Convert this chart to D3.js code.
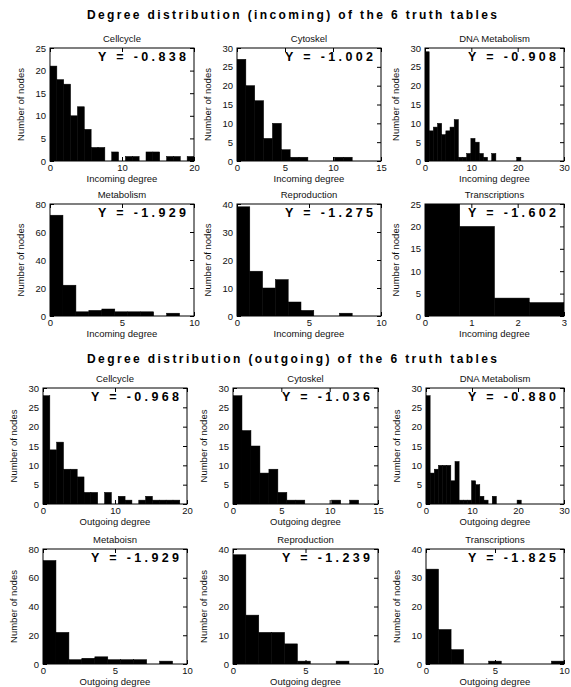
<!DOCTYPE html>
<html>
  <head>
    <meta charset="utf-8" />
    <title>Degree distributions of the 6 truth tables</title>
    <script src="https://d3js.org/d3.v7.min.js"></script>
    <style>
      body {
        margin: 0;
        background: #fff;
        font-family: "Liberation Sans", Arial, sans-serif;
      }
      .axis text {
        font-size: 9.5px;
        fill: #111;
      }
      .axis line {
        stroke: #000;
      }
      .axis path {
        display: none;
      }
      .main-title {
        font-size: 12px;
        font-weight: bold;
      }
      .panel-title,
      .x-label,
      .y-label {
        font-size: 9.5px;
        fill: #111;
      }
      .gamma {
        font-family: "Liberation Sans", Arial, sans-serif;
        font-size: 12.5px;
        font-weight: bold;
      }
    </style>
  </head>
  <body>
    <svg id="chart" width="571" height="687"></svg>

    <script>
      // Panel names and fitted exponents
      const namesIn = ['Cellcycle', 'Cytoskel', 'DNA Metabolism', 'Metabolism', 'Reproduction', 'Transcriptions'];
      const namesOut = ['Cellcycle', 'Cytoskel', 'DNA Metabolism', 'Metaboisn', 'Reproduction', 'Transcriptions'];
      const gammaIn = ['-0.838', '-1.002', '-0.908', '-1.929', '-1.275', '-1.602'];
      const gammaOut = ['-0.968', '-1.036', '-0.880', '-1.929', '-1.239', '-1.825'];

      // Histogram counts (number of nodes per bin), incoming degree
      const cellcycleIn = [21, 18, 17, 10, 12, 7, 3, 3, 0, 2, 0, 1, 1, 0, 2, 2, 0, 1, 1, 0, 1];
      const cytoskelIn = [27, 20, 16, 6, 10, 3, 1, 1, 0, 0, 0, 1, 1];
      const dnaIn = [29, 8, 9, 10, 7, 8, 9, 11, 1, 1, 2, 6, 5, 2, 1, 0, 2, 0, 0, 0, 0, 0, 1];
      const metabolismIn = [72, 22, 3, 4, 5, 3, 3, 3, 0, 2];
      const reproductionIn = [39, 16, 10, 13, 5, 2, 0, 0, 1];
      const transcriptionsIn = [25, 20, 4, 3];

      // Histogram counts, outgoing degree
      const cellcycleOut = [28, 14, 16, 9, 9, 7, 3, 3, 0, 3, 0, 2, 1, 0, 1, 2, 1, 1, 1, 1];
      const cytoskelOut = [28, 19, 15, 8, 9, 3, 1, 1, 0, 0, 0, 1, 0, 1];
      const dnaOut = [28, 8, 9, 10, 10, 10, 6, 11, 1, 1, 1, 6, 5, 2, 1, 0, 2, 0, 0, 0, 0, 0, 1];
      const metabolismOut = [72, 22, 3, 4, 5, 3, 3, 3, 0, 2];
      const reproductionOut = [38, 17, 11, 11, 7, 1, 0, 0, 1];
      const transcriptionsOut = [33, 12, 5, 0, 0, 1, 0, 0, 0, 0, 1];

      // Bin widths (degree units)
      const binWidthIn = [20 / 21, 12 / 13, 0.9, 0.9, 8 / 9, 0.75];
      const binWidthOut = [19 / 20, 13 / 14, 0.9, 0.9, 8 / 9, 10 / 11];

      // Axis ranges and ticks
      const xTicksIn = [[0, 10, 20], [0, 5, 10, 15], [0, 10, 20, 30], [0, 5, 10], [0, 5, 10], [0, 1, 2, 3]];
      const xTicksOut = [[0, 10, 20], [0, 5, 10, 15], [0, 10, 20, 30], [0, 5, 10], [0, 5, 10], [0, 5, 10]];
      const yTicksIn = [[0, 5, 10, 15, 20, 25], [0, 5, 10, 15, 20, 25, 30], [0, 5, 10, 15, 20, 25, 30],
                        [0, 20, 40, 60, 80], [0, 10, 20, 30, 40], [0, 5, 10, 15, 20, 25]];
      const yTicksOut = [[0, 5, 10, 15, 20, 25, 30], [0, 5, 10, 15, 20, 25, 30], [0, 5, 10, 15, 20, 25, 30],
                         [0, 20, 40, 60, 80], [0, 10, 20, 30, 40], [0, 10, 20, 30, 40]];

      const countsIn = [cellcycleIn, cytoskelIn, dnaIn, metabolismIn, reproductionIn, transcriptionsIn];
      const countsOut = [cellcycleOut, cytoskelOut, dnaOut, metabolismOut, reproductionOut, transcriptionsOut];

      const svg = d3.select('#chart');

      // Plot box positions for the two blocks of 2x3 panels
      const layoutIn = { tops: [48, 204], bottoms: [161, 316], lefts: [50, 237, 425], rights: [194, 381, 564] };
      const layoutOut = { tops: [388, 549], bottoms: [504, 664], lefts: [43, 233, 426], rights: [187, 378, 564] };

      function drawPanel(box, name, gamma, counts, bw, xTicks, yTicks, xLabel, id) {
        const xMax = xTicks[xTicks.length - 1];
        const yMax = yTicks[yTicks.length - 1];
        const x = d3.scaleLinear().domain([0, xMax]).range([box.l, box.r]);
        const y = d3.scaleLinear().domain([0, yMax]).range([box.b, box.t]);
        const fmt = d3.format('d');

        const g = svg.append('g');

        g.append('clipPath').attr('id', id)
          .append('rect')
          .attr('x', box.l).attr('y', box.t)
          .attr('width', box.r - box.l).attr('height', box.b - box.t);

        // bars
        g.append('g')
          .attr('clip-path', `url(#${id})`)
          .selectAll('rect')
          .data(counts.map((c, i) => ({ c, i })).filter(d => d.c > 0))
          .join('rect')
            .attr('x', d => x(d.i * bw))
            .attr('y', d => y(d.c))
            .attr('width', d => x((d.i + 1) * bw) - x(d.i * bw))
            .attr('height', d => y(0) - y(d.c))
            .attr('fill', '#000')
            .attr('stroke', '#000')
            .attr('stroke-width', 0.5);

        // axes with inward ticks on all four sides
        g.append('g').attr('class', 'axis')
          .attr('transform', `translate(0,${box.b})`)
          .call(d3.axisBottom(x).tickValues(xTicks).tickFormat(fmt).tickSize(-4).tickPadding(3));
        g.append('g').attr('class', 'axis')
          .attr('transform', `translate(0,${box.t})`)
          .call(d3.axisTop(x).tickValues(xTicks).tickSize(-4).tickFormat(''));
        g.append('g').attr('class', 'axis')
          .attr('transform', `translate(${box.l},0)`)
          .call(d3.axisLeft(y).tickValues(yTicks).tickFormat(fmt).tickSize(-4).tickPadding(4));
        g.append('g').attr('class', 'axis')
          .attr('transform', `translate(${box.r},0)`)
          .call(d3.axisRight(y).tickValues(yTicks).tickSize(-4).tickFormat(''));

        g.append('rect')
          .attr('x', box.l).attr('y', box.t)
          .attr('width', box.r - box.l).attr('height', box.b - box.t)
          .attr('fill', 'none').attr('stroke', '#000');

        const cx = (box.l + box.r) / 2;
        g.append('text').attr('class', 'panel-title')
          .attr('x', cx).attr('y', box.t - 6)
          .attr('text-anchor', 'middle').text(name);
        g.append('text').attr('class', 'x-label')
          .attr('x', cx).attr('y', box.b + 21)
          .attr('text-anchor', 'middle').text(xLabel);
        g.append('text').attr('class', 'y-label')
          .attr('transform', `translate(${box.l - 26},${(box.t + box.b) / 2}) rotate(-90)`)
          .attr('text-anchor', 'middle').text('Number of nodes');
        g.append('text').attr('class', 'gamma')
          .attr('x', box.r - 8).attr('y', box.t + 13)
          .attr('text-anchor', 'end')
          .attr('textLength', 88).attr('lengthAdjust', 'spacing')
          .text('Y = ' + gamma);
      }

      function drawBlock(layout, names, gammas, counts, widths, xTicks, yTicks, xLabel, prefix) {
        names.forEach((name, k) => {
          const row = Math.floor(k / 3);
          const col = k % 3;
          const box = {
            l: layout.lefts[col], r: layout.rights[col],
            t: layout.tops[row], b: layout.bottoms[row]
          };
          drawPanel(box, name, gammas[k], counts[k], widths[k], xTicks[k], yTicks[k], xLabel, prefix + k);
        });
      }

      svg.append('text').attr('class', 'main-title')
        .attr('x', 292).attr('y', 19).attr('text-anchor', 'middle')
        .attr('textLength', 410).attr('lengthAdjust', 'spacing')
        .text('Degree distribution (incoming) of the 6 truth tables');
      svg.append('text').attr('class', 'main-title')
        .attr('x', 292).attr('y', 363).attr('text-anchor', 'middle')
        .attr('textLength', 410).attr('lengthAdjust', 'spacing')
        .text('Degree distribution (outgoing) of the 6 truth tables');

      drawBlock(layoutIn, namesIn, gammaIn, countsIn, binWidthIn, xTicksIn, yTicksIn, 'Incoming degree', 'clipIn');
      drawBlock(layoutOut, namesOut, gammaOut, countsOut, binWidthOut, xTicksOut, yTicksOut, 'Outgoing degree', 'clipOut');
    </script>
  </body>
</html>
